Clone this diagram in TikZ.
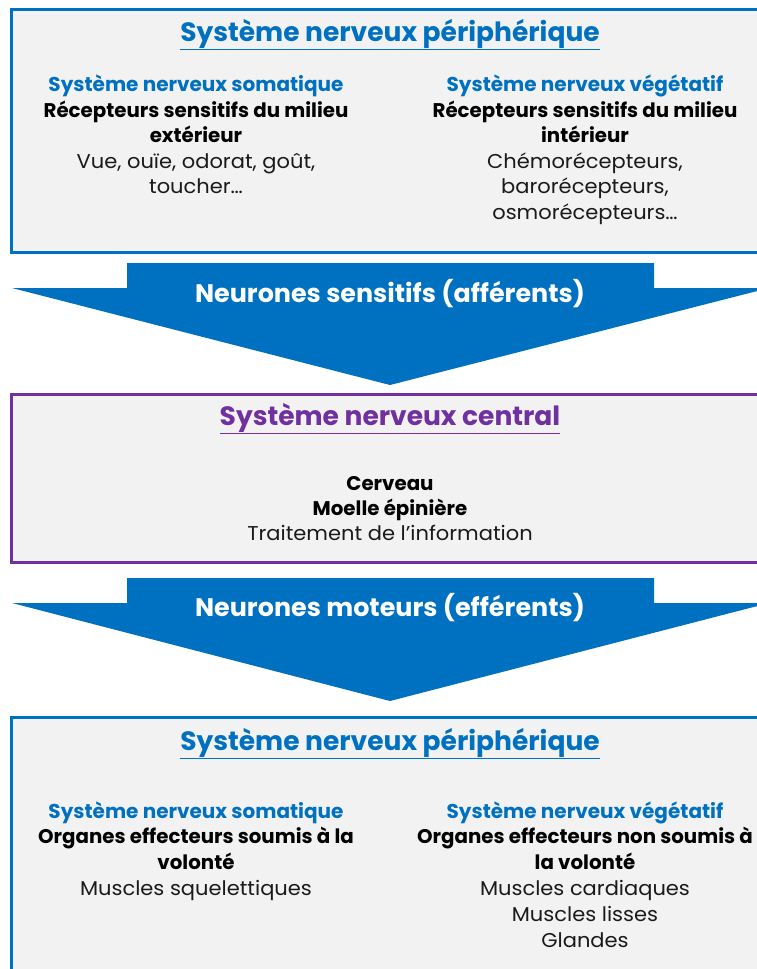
\documentclass[tikz,border=0pt]{standalone}
\usepackage{fontspec}
\setmainfont{Poppins}
\definecolor{sblue}{HTML}{0070C0}
\definecolor{spurple}{HTML}{7030A0}
\definecolor{sfill}{HTML}{F2F2F2}
\definecolor{stext}{HTML}{1A1A1A}
\tikzset{
  box/.style={fill=sfill, line width=3pt},
  bigarrow/.style={fill=sblue, draw=none},
  title/.style={anchor=base, inner sep=0pt, font=\fontsize{26.5}{30}\selectfont\bfseries},
  sub/.style={anchor=base, inner sep=0pt, text=sblue, font=\fontsize{20}{22}\selectfont\bfseries},
  bold/.style={anchor=base, inner sep=0pt, font=\fontsize{19.8}{22}\selectfont\bfseries},
  plain/.style={anchor=base, inner sep=0pt, text=stext, font=\fontsize{20}{22}\selectfont\addfontfeatures{FakeStretch=1.05}},
  arrowtext/.style={anchor=base, inner sep=0pt, text=white, font=\fontsize{25.4}{28}\selectfont\bfseries}
}
\begin{document}
\begin{tikzpicture}[x=1pt,y=1pt]
\useasboundingbox (0,0) rectangle (757,-969);
\clip (0,0) rectangle (757,-969);
% boxes
\draw[box, draw=sblue] (11,-9) rectangle (772,-252);
\draw[box, draw=spurple] (11,-394) rectangle (772,-562);
\draw[box, draw=sblue] (11,-717) rectangle (772,-990);
% arrows
\fill[bigarrow] (127,-263) -- (654,-263) -- (654,-288) -- (769,-288) -- (390,-385) -- (12,-288) -- (127,-288) -- cycle;
\fill[bigarrow] (127,-578) -- (654,-578) -- (654,-603) -- (769,-603) -- (390,-701) -- (12,-603) -- (127,-603) -- cycle;
% top box
\node[title, text=sblue] (t1) at (390,-41) {\underline{Système nerveux périphérique}};
\node[sub] (t1a) at (196,-91.5) {Système nerveux somatique};
\node[bold] (t1b) at (196,-117.5) {Récepteurs sensitifs du milieu};
\node[bold] (t1c) at (196,-142.5) {extérieur};
\node[plain] (t1d) at (196,-168.5) {Vue, ouïe, odorat, goût,};
\node[plain] (t1e) at (196,-193.5) {toucher…};
\node[sub] (t1f) at (585,-91.5) {Système nerveux végétatif};
\node[bold] (t1g) at (585,-117.5) {Récepteurs sensitifs du milieu};
\node[bold] (t1h) at (585,-142.5) {intérieur};
\node[plain] (t1i) at (585,-168.5) {Chémorécepteurs,};
\node[plain] (t1j) at (585,-193.5) {barorécepteurs,};
\node[plain] (t1k) at (585,-219.5) {osmorécepteurs…};
% arrow texts
\node[arrowtext] (a1) at (390,-302) {Neurones sensitifs (afférents)};
\node[arrowtext] (a2) at (390,-616) {Neurones moteurs (efférents)};
% middle box
\node[title, text=spurple] (m1) at (390,-425) {\underline{Système nerveux central}};
\node[bold] (m2) at (390,-490.5) {Cerveau};
\node[bold] (m3) at (390,-515.5) {Moelle épinière};
\node[plain] (m4) at (390,-540.5) {Traitement de l’information};
% bottom box
\node[title, text=sblue] (b1) at (390,-750) {\underline{Système nerveux périphérique}};
\node[sub] (b1a) at (196,-818.5) {Système nerveux somatique};
\node[bold] (b1b) at (196,-843.5) {Organes effecteurs soumis à la};
\node[bold] (b1c) at (196,-869.5) {volonté};
\node[plain] (b1d) at (196,-895.5) {Muscles squelettiques};
\node[sub] (b1f) at (585,-818.5) {Système nerveux végétatif};
\node[bold] (b1g) at (585,-843.5) {Organes effecteurs non soumis à};
\node[bold] (b1h) at (585,-869.5) {la volonté};
\node[plain] (b1i) at (585,-895.5) {Muscles cardiaques};
\node[plain] (b1j) at (585,-921.5) {Muscles lisses};
\node[plain] (b1k) at (585,-947.5) {Glandes};
\end{tikzpicture}
\end{document}
